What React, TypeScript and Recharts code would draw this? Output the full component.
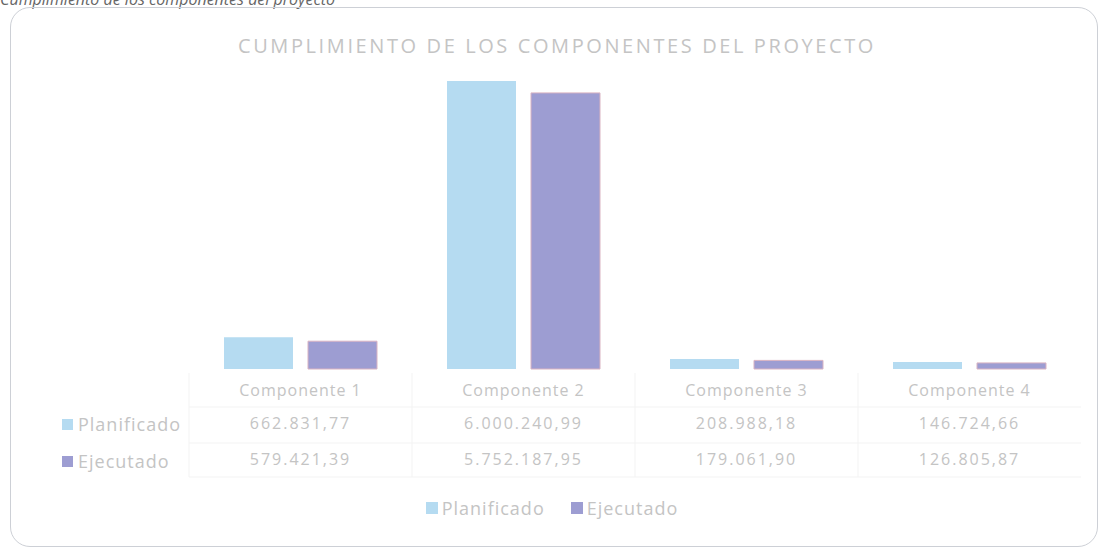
import React from 'react';
import { BarChart, Bar, XAxis, YAxis, Legend } from 'recharts';

const categories = ['Componente 1', 'Componente 2', 'Componente 3', 'Componente 4'];
const planificado = [662831.77, 6000240.99, 208988.18, 146724.66];
const ejecutado = [579421.39, 5752187.95, 179061.9, 126805.87];
const planificadoLabels = ['662.831,77', '6.000.240,99', '208.988,18', '146.724,66'];
const ejecutadoLabels = ['579.421,39', '5.752.187,95', '179.061,90', '126.805,87'];

const data = categories.map((c, i) => ({ name: c, Planificado: planificado[i], Ejecutado: ejecutado[i] }));

const W = 1101;
const H = 549;
const M = { top: 81, right: 20, left: 189, bottom: 46 };
const BAND = (W - M.left - M.right) / categories.length;
const FONT = '"Open Sans", sans-serif';
const TXT = '#c4c4c4';
const C_PLAN = '#b5dbf1';
const C_EJE = '#9d9dd2';
const GRID = '#f3f3f3';

const TableTick = (props: any) => {
  const { x, y, payload } = props;
  const i = payload.index;
  const left = x - BAND / 2;
  return (
    <g fontFamily={FONT} fontSize={16} fill={TXT} letterSpacing={1}>
      <line x1={left} x2={left} y1={y + 4} y2={y + 108} stroke={GRID} />
      <line x1={left} x2={left + BAND} y1={y + 38} y2={y + 38} stroke={GRID} />
      <line x1={left} x2={left + BAND} y1={y + 74} y2={y + 74} stroke={GRID} />
      <line x1={left} x2={left + BAND} y1={y + 108} y2={y + 108} stroke={GRID} />
      <text x={x} y={y + 23} textAnchor="middle" dominantBaseline="middle">{payload.value}</text>
      <text x={x} y={y + 56} textAnchor="middle" dominantBaseline="middle" letterSpacing={2}>{planificadoLabels[i]}</text>
      <text x={x} y={y + 92} textAnchor="middle" dominantBaseline="middle" letterSpacing={2}>{ejecutadoLabels[i]}</text>
    </g>
  );
};

const LegendContent = () => (
  <div style={{ display: 'flex', justifyContent: 'center', gap: 26, fontFamily: FONT, fontSize: 18, color: TXT, letterSpacing: 1 }}>
    {[{ n: 'Planificado', c: C_PLAN }, { n: 'Ejecutado', c: C_EJE }].map((s) => (
      <span key={s.n} style={{ display: 'flex', alignItems: 'center' }}>
        <span style={{ width: 12, height: 12, background: s.c, display: 'inline-block', marginRight: 4 }} />
        {s.n}
      </span>
    ))}
  </div>
);

export default function App() {
  return (
    <div style={{ position: 'absolute', left: 0, top: 0, width: W, height: H, background: '#fff', overflow: 'hidden' }}>
      <div style={{ position: 'absolute', left: 0, top: -12, fontFamily: FONT, fontStyle: 'italic', fontSize: 16, color: '#666', whiteSpace: 'nowrap' }}>
        Cumplimiento de los componentes del proyecto
      </div>
      <div style={{ position: 'absolute', left: 10, top: 7, width: 1086, height: 538, border: '1px solid #cdd0d6', borderRadius: 20 }} />
      <div style={{ position: 'absolute', left: 0, width: 1114, top: 32, textAlign: 'center', fontFamily: FONT, fontSize: 20, color: TXT, letterSpacing: 2.6 }}>
        CUMPLIMIENTO DE LOS COMPONENTES DEL PROYECTO
      </div>
      <div style={{ position: 'absolute', left: 0, top: 0 }}>
        <BarChart width={W} height={H} data={data} margin={M} barCategoryGap={35} barGap={15}>
          <YAxis hide domain={[0, 'dataMax']} />
          <XAxis dataKey="name" axisLine={false} tickLine={false} tickSize={0} tickMargin={0} height={110} interval={0} tick={<TableTick />} />
          <Bar dataKey="Planificado" fill={C_PLAN} isAnimationActive={false} />
          <Bar dataKey="Ejecutado" fill={C_EJE} stroke="#d9b3c2" strokeWidth={1} isAnimationActive={false} />
          <Legend content={<LegendContent />} wrapperStyle={{ left: 352, width: 400, top: 496 }} />
        </BarChart>
      </div>
      <div style={{ position: 'absolute', left: 62, top: 412, fontFamily: FONT, fontSize: 18, color: TXT, lineHeight: '24px', letterSpacing: 1 }}>
        <div style={{ display: 'flex', alignItems: 'center' }}>
          <span style={{ width: 11, height: 11, background: C_PLAN, display: 'inline-block', marginRight: 5 }} />Planificado
        </div>
        <div style={{ display: 'flex', alignItems: 'center', marginTop: 13 }}>
          <span style={{ width: 11, height: 11, background: C_EJE, display: 'inline-block', marginRight: 5 }} />Ejecutado
        </div>
      </div>
    </div>
  );
}
